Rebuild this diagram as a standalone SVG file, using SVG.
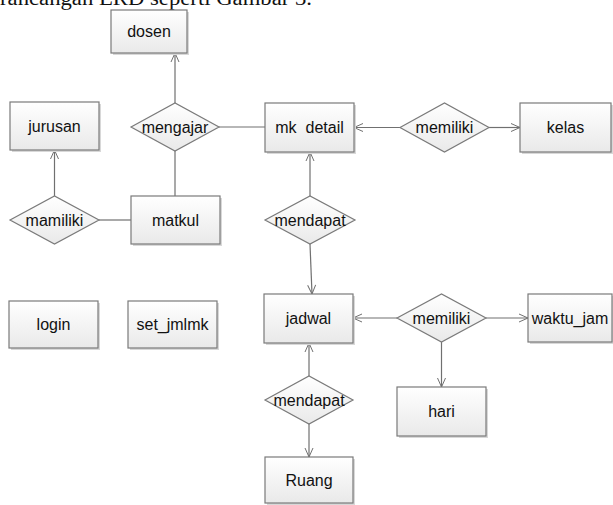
<svg xmlns="http://www.w3.org/2000/svg" width="613" height="505" viewBox="0 0 613 505">
<defs>
<linearGradient id="g" x1="0" y1="0" x2="0" y2="1">
<stop offset="0" stop-color="#ffffff"/>
<stop offset="1" stop-color="#e9e9e9"/>
</linearGradient>
<marker id="arr" viewBox="0 0 10 10" refX="10" refY="5" markerWidth="10" markerHeight="10" markerUnits="userSpaceOnUse" orient="auto">
<path d="M1,1 L10,5 L1,9" fill="none" stroke="#707070" stroke-width="1"/>
</marker>
</defs>
<style>
.box{fill:url(#g);stroke:#7a7a7a;stroke-width:1.2}
.sh{fill:#d8d8d8}
.dia{fill:url(#g);stroke:#7a7a7a;stroke-width:1.2}
.t{font-family:"Liberation Sans",Arial,sans-serif;font-size:16px;fill:#111;text-anchor:middle}
.c{stroke:#707070;stroke-width:1.2;fill:none}
.a{marker-end:url(#arr)}
.hdr{font-family:"Liberation Serif","Times New Roman",serif;font-size:20px;fill:#111}
</style>
<rect width="613" height="505" fill="#ffffff"/>
<text class="hdr" x="0" y="5" textLength="312" lengthAdjust="spacingAndGlyphs">rancangan ERD seperti Gambar 3.</text>

<g id="connectors">
<line class="c a" x1="175" y1="103" x2="175" y2="53"/>
<line class="c" x1="175" y1="151" x2="175" y2="196"/>
<line class="c" x1="219" y1="127" x2="265" y2="127"/>
<line class="c a" x1="54.5" y1="196" x2="54.5" y2="150"/>
<line class="c" x1="99" y1="220" x2="131" y2="220"/>
<line class="c a" x1="400" y1="127.5" x2="354" y2="127.5"/>
<line class="c a" x1="489" y1="127.5" x2="520" y2="127.5"/>
<line class="c a" x1="310" y1="196" x2="310" y2="152"/>
<line class="c a" x1="310" y1="244" x2="312" y2="294"/>
<line class="c a" x1="397" y1="318" x2="353" y2="318"/>
<line class="c a" x1="486" y1="318" x2="528" y2="318"/>
<line class="c a" x1="441.5" y1="342" x2="441.5" y2="387"/>
<line class="c a" x1="309" y1="376" x2="309" y2="343"/>
<line class="c a" x1="309" y1="423" x2="309" y2="457"/>
</g>

<g id="dosen"><rect class="sh" x="113" y="12" width="76" height="43"/><rect class="box" x="111" y="10" width="76" height="43"/><text class="t" x="149" y="37">dosen</text></g>
<g id="jurusan"><rect class="sh" x="12" y="104" width="89" height="48"/><rect class="box" x="10" y="102" width="89" height="48"/><text class="t" x="54.5" y="132">jurusan</text></g>
<g id="mengajar"><polygon class="dia" points="131,127 175,103 219,127 175,151"/><text class="t" x="175" y="133">mengajar</text></g>
<g id="mk_detail"><rect class="sh" x="267" y="105" width="89" height="49"/><rect class="box" x="265" y="103" width="89" height="49"/><text class="t" x="309.5" y="133" xml:space="preserve">mk  detail</text></g>
<g id="memiliki1"><polygon class="dia" points="400,127.5 444.5,103 489,127.5 444.5,152"/><text class="t" x="444.5" y="133">memiliki</text></g>
<g id="kelas"><rect class="sh" x="522" y="105" width="91" height="49"/><rect class="box" x="520" y="103" width="91" height="49"/><text class="t" x="565.5" y="133">kelas</text></g>
<g id="mamiliki"><polygon class="dia" points="10,220 54.5,196 99,220 54.5,244"/><text class="t" x="54.5" y="226">mamiliki</text></g>
<g id="matkul"><rect class="sh" x="133" y="198" width="89" height="48"/><rect class="box" x="131" y="196" width="89" height="48"/><text class="t" x="175.5" y="226">matkul</text></g>
<g id="mendapat1"><polygon class="dia" points="265,220 310,196 355,220 310,244"/><text class="t" x="310" y="226">mendapat</text></g>
<g id="login"><rect class="sh" x="11" y="303" width="89" height="47"/><rect class="box" x="9" y="301" width="89" height="47"/><text class="t" x="53.5" y="330">login</text></g>
<g id="set_jmlmk"><rect class="sh" x="130" y="303" width="89" height="47"/><rect class="box" x="128" y="301" width="89" height="47"/><text class="t" x="172.5" y="330">set_jmlmk</text></g>
<g id="jadwal"><rect class="sh" x="266" y="296" width="89" height="49"/><rect class="box" x="264" y="294" width="89" height="49"/><text class="t" x="308.5" y="324">jadwal</text></g>
<g id="memiliki2"><polygon class="dia" points="397,318 441.5,294 486,318 441.5,342"/><text class="t" x="441.5" y="324">memiliki</text></g>
<g id="waktu_jam"><rect class="sh" x="530" y="296" width="84" height="48"/><rect class="box" x="528" y="294" width="84" height="48"/><text class="t" x="570" y="324">waktu_jam</text></g>
<g id="hari"><rect class="sh" x="399" y="389" width="89" height="49"/><rect class="box" x="397" y="387" width="89" height="49"/><text class="t" x="441.5" y="417">hari</text></g>
<g id="mendapat2"><polygon class="dia" points="265,400 309,376 353,400 309,424"/><text class="t" x="309" y="406">mendapat</text></g>
<g id="Ruang"><rect class="sh" x="267" y="459" width="88" height="46"/><rect class="box" x="265" y="457" width="88" height="46"/><text class="t" x="309" y="486">Ruang</text></g>
</svg>
